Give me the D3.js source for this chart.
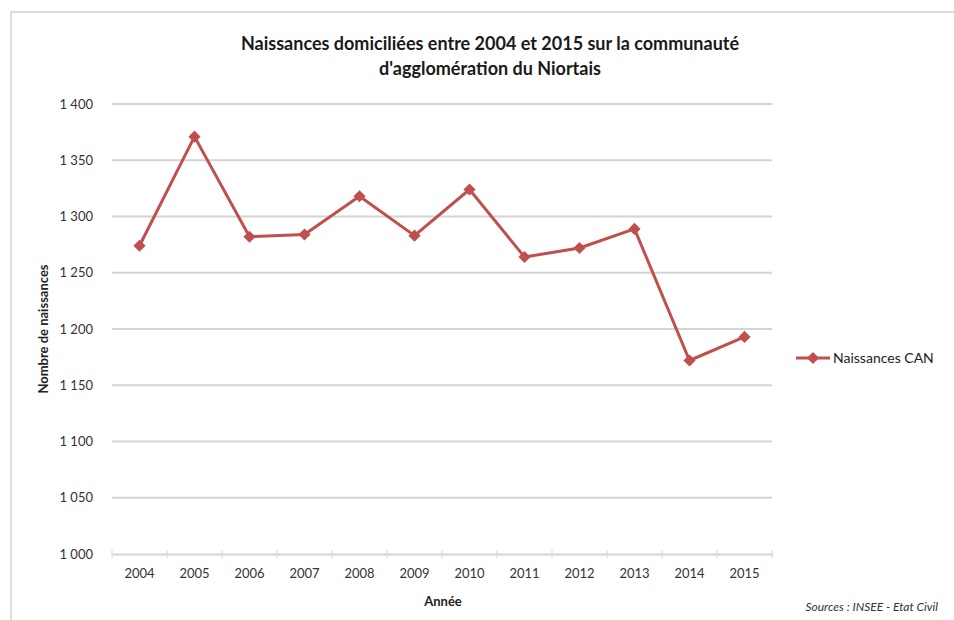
<!DOCTYPE html>
<html>
<head>
<meta charset="utf-8">
<script src="https://cdn.jsdelivr.net/npm/d3@7"></script>
<style>
  body { margin: 0; background: #fff; }
  svg { font-family: Lato, "Open Sans", sans-serif; }
</style>
</head>
<body>
<svg id="chart" width="954" height="620"></svg>
<script>
var years = ['2004', '2005', '2006', '2007', '2008', '2009', '2010', '2011', '2012', '2013', '2014', '2015'];
var naissances = [1274, 1371, 1282, 1284, 1318, 1283, 1324, 1264, 1272, 1289, 1172, 1193];
var yTicks = [1000, 1050, 1100, 1150, 1200, 1250, 1300, 1350, 1400];
var seriesName = 'Naissances CAN';
var titleLines = ['Naissances domiciliées entre 2004 et 2015 sur la communauté', "d'agglomération du Niortais"];

var svg = d3.select('#chart');
var red = '#c0504d';
var grid = '#d4d4d4';
var plotLeft = 112, plotRight = 772, plotTop = 104, plotBottom = 554;

// chart frame (only top and left edges visible in the picture)
svg.append('path')
  .attr('d', 'M11,630 V12 H960')
  .attr('fill', 'none')
  .attr('stroke', '#dcdcdc')
  .attr('stroke-width', 2);

var x = d3.scaleBand().domain(years).range([plotLeft, plotRight]);
var y = d3.scaleLinear().domain([1000, 1400]).range([plotBottom, plotTop]);

// gridlines
svg.append('g').selectAll('line')
  .data(yTicks.slice(1))
  .enter().append('line')
  .attr('x1', plotLeft).attr('x2', plotRight)
  .attr('y1', function (d) { return y(d); })
  .attr('y2', function (d) { return y(d); })
  .attr('stroke', grid)
  .attr('stroke-width', 2);

// y axis labels
svg.append('g')
  .attr('transform', 'translate(' + (plotLeft - 16) + ',0)')
  .call(d3.axisLeft(y).tickValues(yTicks).tickSize(0).tickFormat(function (d) {
    return String(d).slice(0, 1) + ' ' + String(d).slice(1);
  }))
  .call(function (g) { g.select('.domain').remove(); })
  .selectAll('text')
  .attr('font-size', 13)
  .attr('fill', '#333')
  .attr('font-family', 'Lato, sans-serif');

// x axis
var xAxis = svg.append('g')
  .attr('transform', 'translate(0,' + plotBottom + ')')
  .call(d3.axisBottom(x).tickSize(5).tickPadding(10).tickSizeOuter(0));
xAxis.select('.domain').attr('stroke', grid).attr('stroke-width', 2);
xAxis.selectAll('.tick line').attr('stroke', grid).attr('y1', -4).attr('y2', 4)
  .attr('transform', 'translate(' + (-x.bandwidth() / 2) + ',0)');
xAxis.append('line')
  .attr('x1', plotRight).attr('x2', plotRight).attr('y1', -4).attr('y2', 4)
  .attr('stroke', grid);
xAxis.selectAll('text')
  .attr('font-size', 13)
  .attr('fill', '#333')
  .attr('font-family', 'Lato, sans-serif');

// series line
var line = d3.line()
  .x(function (d, i) { return x(years[i]) + x.bandwidth() / 2; })
  .y(function (d) { return y(d); });

svg.append('path')
  .datum(naissances)
  .attr('d', line)
  .attr('fill', 'none')
  .attr('stroke', red)
  .attr('stroke-width', 3)
  .attr('stroke-linejoin', 'round');

var diamond = d3.symbol().type(d3.symbolDiamond2).size(95);
svg.append('g').selectAll('path')
  .data(naissances)
  .enter().append('path')
  .attr('d', diamond)
  .attr('transform', function (d, i) {
    return 'translate(' + (x(years[i]) + x.bandwidth() / 2) + ',' + y(d) + ')';
  })
  .attr('fill', red);

// title
svg.append('text')
  .attr('x', 490)
  .attr('y', 50)
  .attr('text-anchor', 'middle')
  .attr('font-size', 18)
  .attr('font-weight', 'bold')
  .attr('fill', '#1a1a1a')
  .selectAll('tspan')
  .data(titleLines)
  .enter().append('tspan')
  .attr('x', 490)
  .attr('dy', function (d, i) { return i === 0 ? 0 : 25; })
  .text(function (d) { return d; });

// axis titles
svg.append('text')
  .attr('x', 443)
  .attr('y', 606)
  .attr('text-anchor', 'middle')
  .attr('font-size', 13)
  .attr('font-weight', 'bold')
  .attr('fill', '#222')
  .text('Année');

svg.append('text')
  .attr('transform', 'translate(48,' + 329 + ')rotate(-90)')
  .attr('text-anchor', 'middle')
  .attr('font-size', 13)
  .attr('font-weight', 'bold')
  .attr('fill', '#222')
  .text('Nombre de naissances');

// legend
var legend = svg.append('g').attr('transform', 'translate(796,358)');
legend.append('line')
  .attr('x1', 0).attr('x2', 34).attr('y1', 0).attr('y2', 0)
  .attr('stroke', red).attr('stroke-width', 3);
legend.append('path')
  .attr('d', diamond)
  .attr('transform', 'translate(17,0)')
  .attr('fill', red);
legend.append('text')
  .attr('x', 37)
  .attr('y', 5)
  .attr('font-size', 14)
  .attr('fill', '#222')
  .text(seriesName);

// source note
svg.append('text')
  .attr('x', 938)
  .attr('y', 611)
  .attr('text-anchor', 'end')
  .attr('font-size', 12)
  .attr('font-style', 'italic')
  .attr('fill', '#333')
  .text('Sources : INSEE - Etat Civil');
</script>
</body>
</html>
